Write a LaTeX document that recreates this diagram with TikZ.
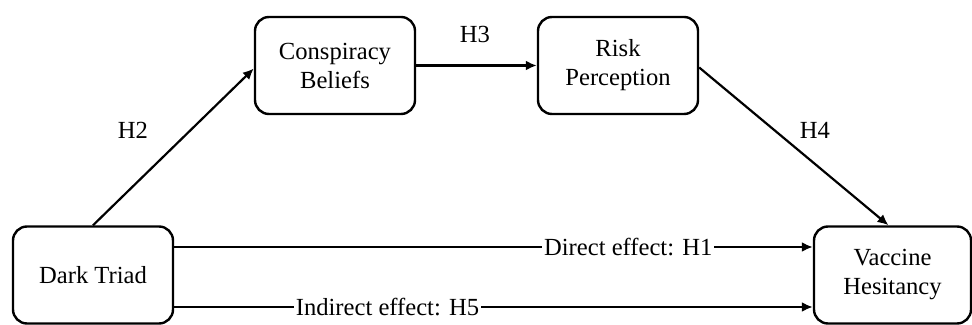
\documentclass[tikz,border=0pt]{standalone}
\usepackage{fontspec}
\setmainfont{Liberation Serif}
\usetikzlibrary{arrows.meta}
\begin{document}
\begin{tikzpicture}[x=0.5pt,y=-0.5pt,
  box/.style={draw,line width=1.2pt,rounded corners=7pt,minimum width=80pt,minimum height=48.5pt,inner sep=0pt,align=center,font=\fontsize{12.3pt}{14.5pt}\selectfont},
  conn/.style={line width=1.1pt,-{Latex[length=5.5pt,width=5pt]}},
  lbl/.style={font=\fontsize{12.3pt}{14.5pt}\selectfont,inner sep=1pt},
  onl/.style={lbl,fill=white}]
\useasboundingbox (0,0) rectangle (972,325);
\node[box] (cb) at (335,65.5) {Conspiracy\\Beliefs};
\node[box] (rp) at (618,65.5) {Risk\\Perception};
\node[box] (dt) at (93,275) {Dark Triad};
\node[box,minimum width=78.5pt] (vh) at (892.5,275) {Vaccine\\Hesitancy};
\draw[conn] (dt.north) -- ([yshift=-1.5pt]cb.west);
\draw[conn] (cb.east) -- (rp.west);
\draw[conn] ([yshift=-1pt]rp.east) -- ([xshift=-2pt]vh.north);
\draw[conn] ([yshift=14pt]dt.east) -- node[onl,pos=0.711] (h1) {Direct effect: H1} ([yshift=14pt]vh.west);
\draw[conn] ([yshift=-16pt]dt.east) -- node[onl,pos=0.334] (h5) {Indirect effect: H5} ([yshift=-16pt]vh.west);
\node[lbl] (h2) at (133,130) {H2};
\node[lbl] (h3) at (475,34) {H3};
\node[lbl] (h4) at (815,130) {H4};
\end{tikzpicture}
\end{document}
